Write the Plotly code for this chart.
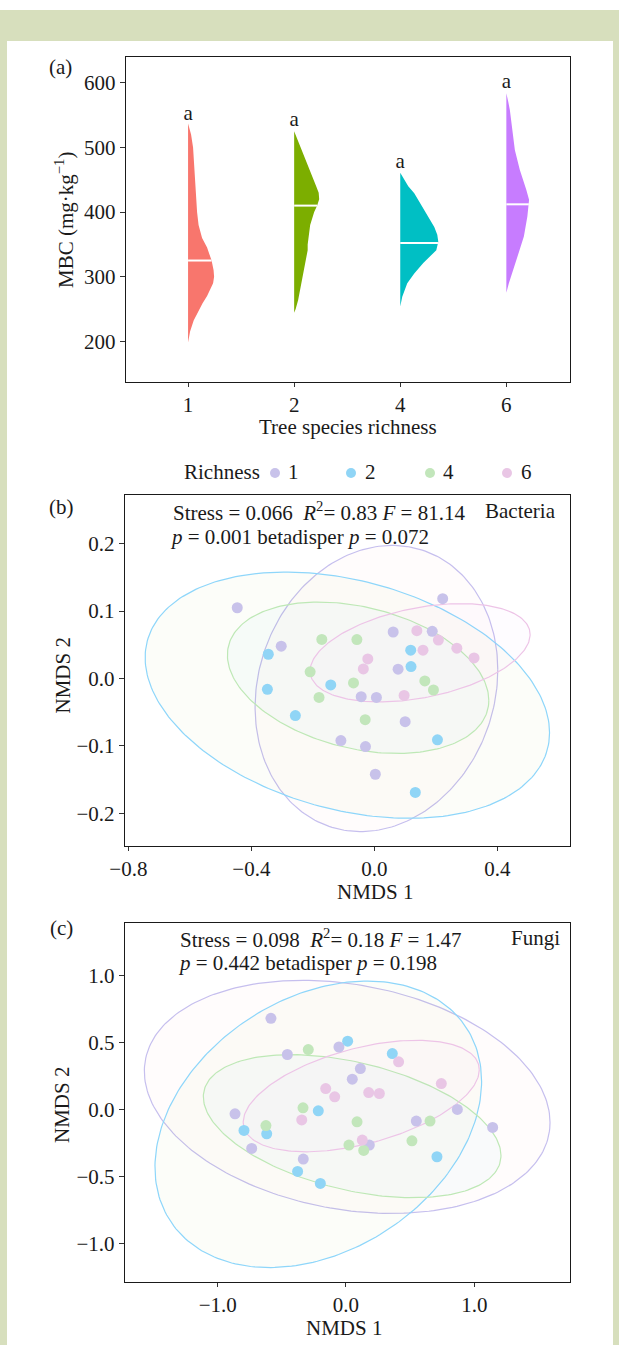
import numpy as np
import plotly.graph_objects as go

W, H = 619, 1345
FONT = "Liberation Serif"
TXT = "#1a1a1a"
FS = 21

# ---------------- Panel (a): MBC half violins ----------------
richness = ["1", "2", "4", "6"]
violin_colors = ["#F8766D", "#7CAE00", "#00BFC4", "#C77CFF"]

# MBC values along each outline and the density half-width read at each value (px)
mbc1_y = [198, 215, 232, 245, 259, 270, 281, 290, 300, 310, 325, 335, 345, 360, 380, 400, 430, 470, 500, 520, 537]
mbc1_w = [0, 2, 5.6, 9.5, 14.5, 19, 22.7, 25, 26, 25.5, 23.5, 21.5, 19, 14, 10.5, 9, 8, 6.5, 5, 3, 0]
mbc2_y = [244, 250, 264, 280, 300, 320, 341, 350, 380, 400, 410, 420, 430, 440, 460, 480, 500, 510, 525]
mbc2_w = [0, 1.5, 4, 6, 9, 11.5, 13.5, 13.5, 16, 20, 23, 25, 24.5, 22, 17, 12, 7, 4, 0]
mbc4_y = [254, 269, 290, 305, 321, 331, 341, 354, 365, 377, 390, 403, 415, 429, 440, 450, 461]
mbc4_w = [0, 2, 7, 14, 23, 30, 36, 38, 37, 34, 29, 24, 19, 14, 8, 4, 0]
mbc6_y = [275, 290, 316, 341, 362, 393, 412, 419, 434, 450, 465, 496, 530, 558, 570, 584]
mbc6_w = [0, 2.5, 8, 13, 17.5, 21, 22.5, 22.7, 20, 16.5, 13.5, 8.5, 6, 3.5, 2, 0]
mbc_median = [325, 410, 352, 412]
sig_letters = ["a", "a", "a", "a"]
letter_y = [550, 542, 477, 600]

# ---------------- Panel (b): bacteria NMDS ----------------
b1_x = [-0.446, -0.303, 0.061, 0.188, 0.222, 0.077, -0.043, 0.0065, -0.109, -0.029, 0.100, 0.003]
b1_y = [0.105, 0.048, 0.069, 0.070, 0.1185, 0.0138, -0.027, -0.028, -0.092, -0.101, -0.064, -0.142]
b2_x = [-0.345, -0.348, -0.142, 0.118, 0.119, -0.257, 0.205, 0.133]
b2_y = [0.036, -0.016, -0.0095, 0.042, 0.0178, -0.055, -0.091, -0.169]
b4_x = [-0.171, -0.057, -0.209, -0.068, -0.180, 0.164, 0.192, -0.030]
b4_y = [0.058, 0.0578, 0.010, -0.0065, -0.028, -0.0035, -0.017, -0.061]
b6_x = [0.138, 0.208, 0.158, 0.268, 0.324, -0.0215, -0.036, 0.0966]
b6_y = [0.071, 0.057, 0.042, 0.045, 0.0305, 0.029, 0.0142, -0.025]
b_ell_cx = [0.0066, -0.088, -0.053, 0.1486]
b_ell_cy = [-0.0148, -0.0247, 0.0012, 0.0382]
b_ell_rx = [0.3946, 0.6575, 0.425, 0.3577]
b_ell_ry = [0.2123, 0.1827, 0.1123, 0.0729]
b_ell_rho = [0.13, -0.305, -0.30, 0.37]

# ---------------- Panel (c): fungi NMDS ----------------
c1_x = [-0.457, -0.055, 0.112, 0.049, -0.865, -0.735, -0.333, 0.182, 0.548, 0.868, 1.143, -0.585]
c1_y = [0.408, 0.464, 0.303, 0.2235, -0.035, -0.293, -0.3725, -0.268, -0.089, -0.002, -0.136, 0.678]
c2_x = [0.013, 0.361, -0.216, -0.795, -0.618, -0.377, -0.200, 0.709]
c2_y = [0.507, 0.415, -0.0127, -0.159, -0.184, -0.465, -0.554, -0.355]
c4_x = [-0.294, -0.335, -0.624, 0.086, 0.655, 0.514, 0.023, 0.138]
c4_y = [0.445, 0.0097, -0.122, -0.094, -0.089, -0.236, -0.268, -0.308]
c6_x = [0.41, 0.743, -0.158, -0.088, 0.177, 0.26, -0.345, 0.127]
c6_y = [0.353, 0.191, 0.154, 0.092, 0.124, 0.117, -0.08, -0.231]
c_ell_cx = [0.0093, -0.216, 0.048, 0.119]
c_ell_cy = [0.0917, -0.113, -0.127, 0.098]
c_ell_rx = [1.581, 1.273, 1.160, 0.920]
c_ell_ry = [0.8696, 1.069, 0.534, 0.416]
c_ell_rho = [-0.22, 0.30, -0.41, 0.47]

point_colors = ["#C8C2EA", "#90D5F6", "#C2E6BB", "#E9C6E5"]
line_colors = ["#C6BFEE", "#8ED6FA", "#BEE8B6", "#EDC4E7"]
fill_colors = ["rgba(248,118,109,0.022)", "rgba(124,174,0,0.022)",
               "rgba(0,191,196,0.022)", "rgba(199,124,255,0.022)"]

fig = go.Figure()

# ---- violins
px_per_cat = 106.0
profiles = [(mbc1_y, mbc1_w), (mbc2_y, mbc2_w), (mbc4_y, mbc4_w), (mbc6_y, mbc6_w)]
for i, (yy, ww) in enumerate(profiles):
    yy = np.array(yy, float)
    ww = np.array(ww, float) / px_per_cat
    xs = np.concatenate([i + ww, [i, i]])
    ys = np.concatenate([yy, [yy[-1], yy[0]]])
    fig.add_trace(go.Scatter(x=xs, y=ys, fill="toself", fillcolor=violin_colors[i],
                             mode="lines", line=dict(width=0, color=violin_colors[i]),
                             showlegend=False, hoverinfo="skip", xaxis="x", yaxis="y"))
    mw = np.interp(mbc_median[i], yy, ww)
    fig.add_trace(go.Scatter(x=[i, i + mw], y=[mbc_median[i]] * 2, mode="lines",
                             line=dict(color="white", width=2), showlegend=False,
                             hoverinfo="skip", xaxis="x", yaxis="y"))
fig.add_trace(go.Scatter(x=list(range(4)), y=letter_y, mode="text", text=sig_letters,
                         textfont=dict(family=FONT, size=FS, color=TXT), showlegend=False,
                         hoverinfo="skip", xaxis="x", yaxis="y"))


def ellipse(cx, cy, rx, ry, rho, n=240):
    t = np.linspace(0, 2 * np.pi, n)
    return cx + rx * np.cos(t), cy + ry * (rho * np.cos(t) + np.sqrt(1 - rho ** 2) * np.sin(t))


def nmds(pts, ell, xa, ya):
    cx, cy, rx, ry, rho = ell
    for g in range(4):
        ex, ey = ellipse(cx[g], cy[g], rx[g], ry[g], rho[g])
        fig.add_trace(go.Scatter(x=ex, y=ey, mode="lines", fill="toself", fillcolor=fill_colors[g],
                                 line=dict(color=line_colors[g], width=1.2), showlegend=False,
                                 hoverinfo="skip", xaxis=xa, yaxis=ya))
    for g in range(4):
        fig.add_trace(go.Scatter(x=pts[g][0], y=pts[g][1], mode="markers", name=richness[g],
                                 marker=dict(color=point_colors[g], size=11),
                                 showlegend=False, xaxis=xa, yaxis=ya))


nmds([(b1_x, b1_y), (b2_x, b2_y), (b4_x, b4_y), (b6_x, b6_y)],
     (b_ell_cx, b_ell_cy, b_ell_rx, b_ell_ry, b_ell_rho), "x2", "y2")
nmds([(c1_x, c1_y), (c2_x, c2_y), (c4_x, c4_y), (c6_x, c6_y)],
     (c_ell_cx, c_ell_cy, c_ell_rx, c_ell_ry, c_ell_rho), "x3", "y3")


def px(x):
    return x / W


def py(y):
    return 1 - y / H


ax_common = dict(showline=True, mirror=True, linecolor="#1a1a1a", linewidth=1.4,
                 ticks="outside", tickwidth=1.2, tickcolor="#333333",
                 showgrid=False, zeroline=False, automargin=False,
                 tickfont=dict(family=FONT, size=FS, color=TXT))
xax = dict(ticklen=4, **ax_common)
yax = dict(ticklen=5, **ax_common)

fig.update_layout(
    width=W, height=H, autosize=False,
    margin=dict(l=0, r=0, t=0, b=0, pad=0),
    paper_bgcolor="white", plot_bgcolor="white",
    font=dict(family=FONT, size=FS, color=TXT),
    showlegend=False,
    xaxis=dict(domain=[px(126), px(570)], range=[-0.585, 3.6], tickvals=[0, 1, 2, 3],
               ticktext=richness, anchor="y", **xax),
    yaxis=dict(domain=[py(382), py(57)], range=[137, 640], tickvals=[200, 300, 400, 500, 600],
               anchor="x", **yax),
    xaxis2=dict(domain=[px(125), px(570)], range=[-0.811, 0.636], tickvals=[-0.8, -0.4, 0, 0.4],
                tickformat=".1f", anchor="y2", **xax),
    yaxis2=dict(domain=[py(845.7), py(494.5)], range=[-0.248, 0.273],
                tickvals=[-0.2, -0.1, 0, 0.1, 0.2], tickformat=".1f", anchor="x2", **yax),
    xaxis3=dict(domain=[px(125), px(570)], range=[-1.7225, 1.746], tickvals=[-1, 0, 1],
                tickformat=".1f", anchor="y3", **xax),
    yaxis3=dict(domain=[py(1281.5), py(922.5)], range=[-1.286, 1.393],
                tickvals=[-1, -0.5, 0, 0.5, 1], tickformat=".1f", anchor="x3", **yax),
)

green = "#D7DFBD"
for (x0, x1, y0, y1) in [(0, W, 10, 41), (0, 7, 10, H), (613, W, 10, H)]:
    fig.add_shape(type="rect", xref="paper", yref="paper", x0=px(x0), x1=px(x1),
                  y0=py(y1), y1=py(y0), fillcolor=green, line=dict(width=0), layer="below")

NB = "\u00a0"


def ann(text, x, y, xanchor="center", angle=0):
    fig.add_annotation(text=text, x=px(x), y=py(y), xref="paper", yref="paper",
                       xanchor=xanchor, yanchor="middle", showarrow=False, textangle=angle,
                       font=dict(family=FONT, size=FS, color=TXT))


# ---- legend (Richness) drawn above panel (b)
legend_dot_x = [275, 351, 430, 507]
legend_text_x = [286, 363, 441, 519]
legend_y = 472
ann("Richness", 182, legend_y, "left")
for g in range(4):
    r = 5
    fig.add_shape(type="circle", xref="paper", yref="paper",
                  x0=px(legend_dot_x[g] - r), x1=px(legend_dot_x[g] + r),
                  y0=py(legend_y + 1 + r), y1=py(legend_y + 1 - r),
                  fillcolor=point_colors[g], line=dict(width=0))
    ann(richness[g], legend_text_x[g], legend_y, "left")

ann("(a)", 60, 67)
ann("(b)", 61, 507)
ann("(c)", 61, 928)
ann("MBC (mg·kg<sup>−1</sup>)", 65, 220, angle=-90)
ann("Tree species richness", 348, 427)
ann("NMDS 2", 62.5, 675, angle=-90)
ann("NMDS 1", 375, 892)
ann("NMDS 2", 62, 1105, angle=-90)
ann("NMDS 1", 344, 1328)
ann("Stress = 0.066" + NB + NB + "<i>R</i><sup>2</sup>= 0.83 <i>F</i> = 81.14", 170.7, 511, "left")
ann("Bacteria", 558, 511, "right")
ann("<i>p</i> = 0.001 betadisper <i>p</i> = 0.072", 168, 536.7, "left")
ann("Stress = 0.098" + NB + NB + "<i>R</i><sup>2</sup>= 0.18 <i>F</i> = 1.47", 178.3, 938.3, "left")
ann("Fungi", 561.7, 938.3, "right")
ann("<i>p</i> = 0.442 betadisper <i>p</i> = 0.198", 176, 963.3, "left")

fig.write_html("out.html",
               post_script="document.body.style.margin='0';document.body.style.padding='0';")
